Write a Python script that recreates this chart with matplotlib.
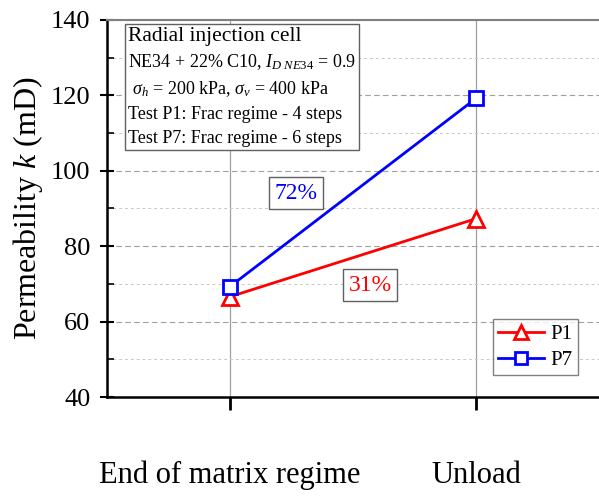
import matplotlib

matplotlib.use("Agg")
import matplotlib.pyplot as plt
from matplotlib.offsetbox import AnchoredOffsetbox, TextArea, VPacker
from matplotlib.ticker import MultipleLocator

plt.rcParams["font.family"] = ["Liberation Serif", "DejaVu Serif"]
plt.rcParams["mathtext.fontset"] = "custom"
plt.rcParams["mathtext.rm"] = "Liberation Serif"
plt.rcParams["mathtext.it"] = "Liberation Serif:italic"

stages = ["End of matrix regime", "Unload"]
p1_values = [66.6, 87.3]
p7_values = [69.3, 119.2]
y_ticks = [40, 60, 80, 100, 120, 140]

info_title = "Radial injection cell"
info_lines = [
    r"NE34 + 22% C10, $I_{D\ NE34}$ = 0.9",
    r" $\sigma_h$ = 200 kPa, $\sigma_v$ = 400 kPa",
    "Test P1: Frac regime - 4 steps",
    "Test P7: Frac regime - 6 steps",
]

fig = plt.figure(figsize=(5.99, 4.97), dpi=100)
ax = fig.add_axes([0.1786, 0.2012, 0.8214, 0.7586])

x = list(range(len(stages)))
ax.plot(x, p1_values, color="#ff0000", linewidth=2.0, marker="^",
        markersize=12, markerfacecolor="white", markeredgewidth=2.0,
        label="P1", zorder=3)
ax.plot(x, p7_values, color="#0000ff", linewidth=2.0, marker="s",
        markersize=10.5, markerfacecolor="white", markeredgewidth=2.0,
        label="P7", zorder=3)

ax.set_xlim(-0.5, 1.5)
ax.set_ylim(40, 140)
ax.set_yticks(y_ticks)
ax.yaxis.set_minor_locator(MultipleLocator(10))
ax.set_xticks(x)
ax.set_xticklabels(stages, fontsize=22)

ax.grid(True, axis="y", which="major", color="#a0a0a0", linestyle=(0, (5, 3)), linewidth=0.8)
ax.grid(True, axis="y", which="minor", color="#c8c8c8", linestyle=(0, (3, 3)), linewidth=0.7)
ax.grid(True, axis="x", which="major", color="#a0a0a0", linestyle="-", linewidth=0.9)
ax.set_axisbelow(True)

ax.tick_params(axis="y", which="major", direction="inout", length=10, width=1.5,
               labelsize=19, pad=7)
ax.tick_params(axis="y", which="minor", direction="in", length=5, width=1.2)
ax.tick_params(axis="x", which="major", direction="out", length=9, width=2,
               pad=37)

ax.spines["left"].set_linewidth(1.8)
ax.spines["bottom"].set_linewidth(1.8)
ax.spines["top"].set_color("#808080")
ax.spines["top"].set_linewidth(1.5)
ax.spines["right"].set_visible(False)

ax.set_ylabel(r"Permeability $k$ (mD)", fontsize=23, labelpad=4)

# info box: title line a little larger than the rest
rows = [TextArea(info_title, textprops=dict(fontsize=15.5))]
rows += [TextArea(line, textprops=dict(fontsize=13)) for line in info_lines]
packed = VPacker(children=rows, align="left", pad=0, sep=5)
info = AnchoredOffsetbox(loc="upper left", child=packed, pad=0.2, borderpad=0,
                         frameon=True, bbox_to_anchor=(0.037, 0.99),
                         bbox_transform=ax.transAxes)
info.patch.set_boxstyle("square,pad=0")
info.patch.set_edgecolor("#606060")
info.patch.set_linewidth(1.0)
ax.add_artist(info)

ax.text(0.384, 0.541, "72%", transform=ax.transAxes, ha="center", va="center",
        fontsize=17, color="#0000ff",
        bbox=dict(boxstyle="square,pad=0.22", facecolor="white",
                  edgecolor="#606060", linewidth=1.0))
ax.text(0.535, 0.297, "31%", transform=ax.transAxes, ha="center", va="center",
        fontsize=17, color="#ff0000",
        bbox=dict(boxstyle="square,pad=0.22", facecolor="white",
                  edgecolor="#606060", linewidth=1.0))

leg = ax.legend(loc="lower right", bbox_to_anchor=(0.957, 0.058), fontsize=15,
                handlelength=2.2, frameon=True, fancybox=False,
                borderpad=0.25, labelspacing=0.3, handletextpad=0.3,
                borderaxespad=0.0, markerscale=0.85)
leg.get_frame().set_edgecolor("#606060")
leg.get_frame().set_linewidth(1.0)

fig.savefig("out.png", dpi=100)
